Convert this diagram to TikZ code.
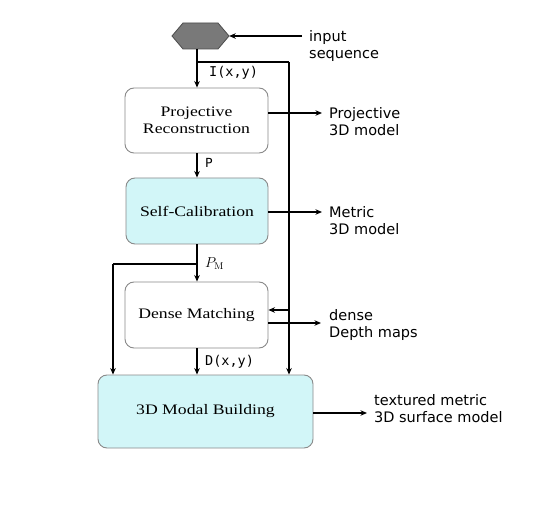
\documentclass[tikz,border=0pt]{standalone}
\usepackage{fontspec}
\usetikzlibrary{arrows.meta}
\newfontfamily\sidefont{DejaVu Sans}
\newfontfamily\boxfont[FakeStretch=1.22]{Liberation Serif}
\newfontfamily\labfont{DejaVu Sans Mono}
\definecolor{boxcyan}{HTML}{D2F6F8}
\definecolor{boxline}{HTML}{8A8A8A}
\begin{document}
\begin{tikzpicture}[x=1pt,y=-1pt,
  arr/.style={draw=black,line width=1.1pt,-{Stealth[length=6.5pt,width=5.5pt]}},
  ln/.style={draw=black,line width=1.1pt},
  procbox/.style={draw=boxline,line width=0.9pt,rounded corners=9pt,fill=white,
    align=center,font=\boxfont\fontsize{14.5}{17}\selectfont},
  cyanbox/.style={procbox,fill=boxcyan},
  side/.style={anchor=west,inner sep=0pt,align=left,font=\sidefont\fontsize{14.5}{17}\selectfont},
  lab/.style={anchor=west,inner sep=0pt,font=\labfont\fontsize{13.5}{15}\selectfont}]
\useasboundingbox (0,0) rectangle (535,518);
\fill[white] (0,0) rectangle (535,518);
% hexagon
\draw[fill=gray!95!black,draw=black!70,line width=0.8pt] (172,36) -- (183,23) -- (218,23) -- (229,36) -- (218,49) -- (183,49) -- cycle;
\node[inner sep=0pt,minimum width=57pt,minimum height=26pt] (hex) at (200.5,36) {};
% boxes
\node[procbox,minimum width=143pt,minimum height=65pt] (proj) at (196.5,120.5) {Projective\\Reconstruction};
\node[cyanbox,minimum width=142pt,minimum height=66pt] (self) at (197,211) {Self-Calibration};
\node[procbox,minimum width=143pt,minimum height=66pt] (dense) at (196.5,315) {Dense Matching};
\node[cyanbox,minimum width=215pt,minimum height=73pt] (modal) at (205.5,411.5) {3D Modal Building};
% side texts
\node[side] (tin) at (309,46) {input\\sequence};
\node[side] (tproj) at (329,121.5) {Projective\\3D model};
\node[side] (tmet) at (329,220.5) {Metric\\3D model};
\node[side] (tden) at (329,325) {dense\\Depth maps};
\node[side] (ttex) at (374,409) {textured metric\\3D surface model};
% coordinates
\coordinate (inR) at (302,36);
\coordinate (b1) at (197,62);
\coordinate (rx) at (289,62);
\coordinate (b2) at (197,264);
\coordinate (lx) at (113,264);
\coordinate (oP) at (322,113);
\coordinate (oS) at (322,212);
\coordinate (oD) at (321,323);
\coordinate (oM) at (367,413);
% connectors
\draw[arr] (inR) -- (hex.east);
\draw[arr] (197,49) -- (proj.north -| b1);
\draw[ln] (b1) -- (rx);
\draw[arr] (rx) -- (rx |- modal.north);
\draw[arr] (289,310) -- (dense.east |- 0,310);
\draw[arr] (proj.south -| b1) -- (self.north -| b1);
\draw[arr] (self.south -| b1) -- (dense.north -| b1);
\draw[ln] (b2) -- (lx);
\draw[arr] (lx) -- (lx |- modal.north);
\draw[arr] (dense.south -| b1) -- (modal.north -| b1);
\draw[arr] (proj.east |- oP) -- (oP);
\draw[arr] (self.east |- oS) -- (oS);
\draw[arr] (dense.east |- oD) -- (oD);
\draw[arr] (modal.east |- oM) -- (oM);
% labels
\node[lab] (lI) at (209,73) {I(x,y)};
\node[anchor=west,inner sep=0pt,font=\sidefont\fontsize{12.5}{14}\selectfont] (lP) at (205,163) {P};
\node[anchor=west,inner sep=0pt,font=\fontsize{14}{16}\selectfont] (lPM) at (205,264) {$P_{\mathrm{M}}$};
\node[lab] (lD) at (205,362) {D(x,y)};
\end{tikzpicture}
\end{document}
